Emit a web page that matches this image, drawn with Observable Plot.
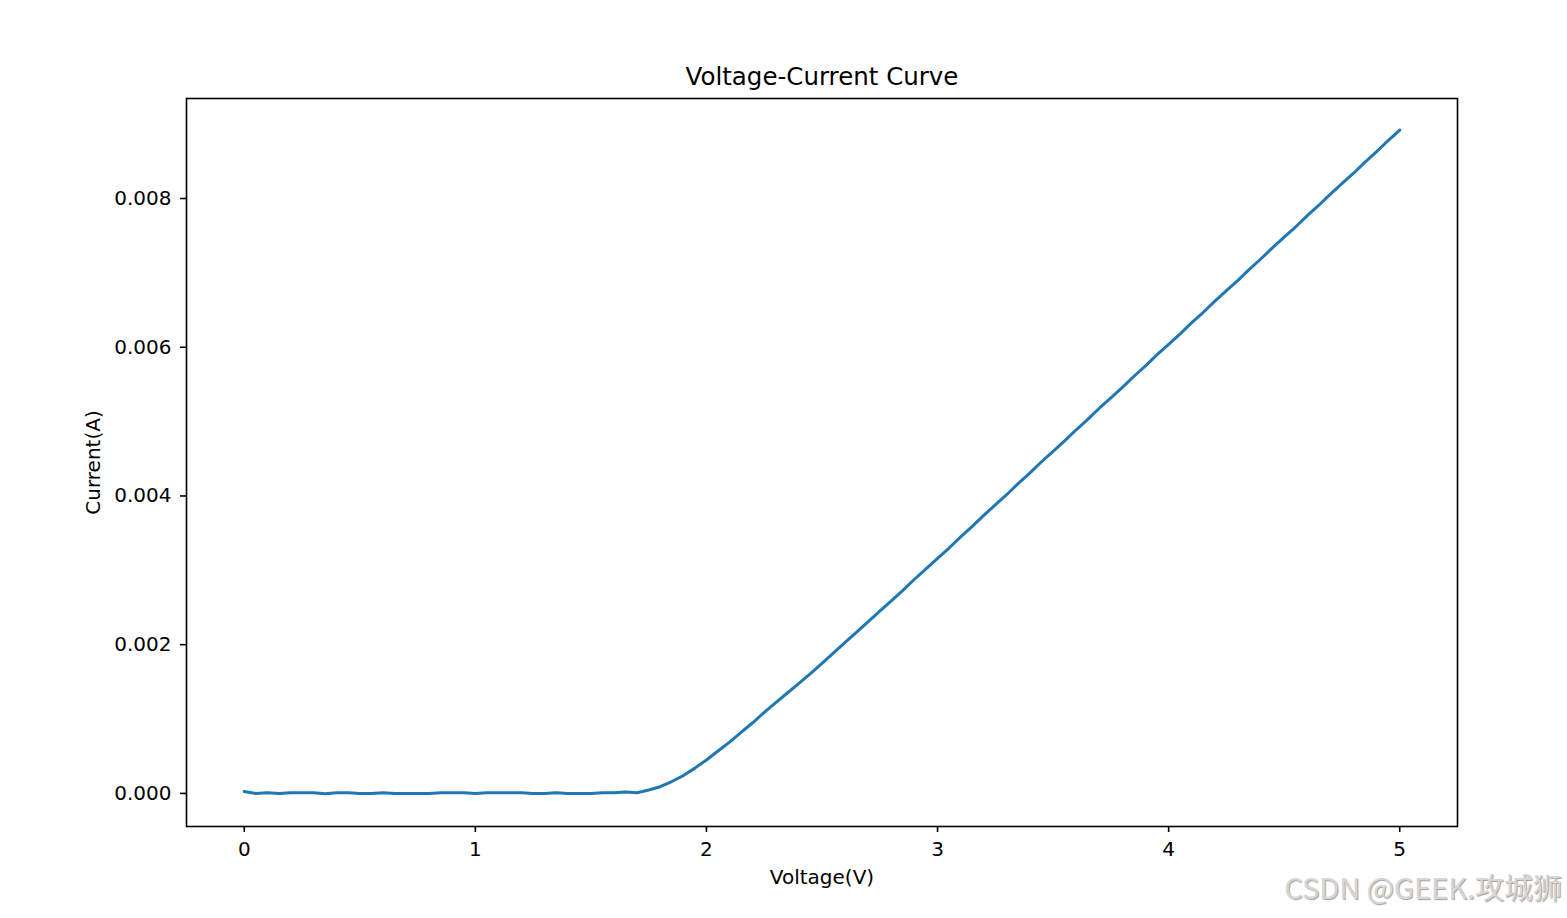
<!DOCTYPE html>
<html>
<head>
<meta charset="utf-8">
<script src="https://cdn.jsdelivr.net/npm/d3@7"></script>
<script src="https://cdn.jsdelivr.net/npm/@observablehq/plot@0.6"></script>
<style>
  html, body { margin: 0; padding: 0; background: #fff; }
  #wrap { position: relative; width: 1567px; height: 918px; overflow: hidden; }
  #wm { position: absolute; right: 5px; top: 872px; font-family: "Noto Sans CJK SC", "DejaVu Sans", sans-serif;
        font-size: 29px; color: #d6d6d6; text-shadow: 1px 1px 1px #a0a0a0; white-space: nowrap; line-height: 1; }
</style>
</head>
<body>
<div id="wrap"><div id="chart"></div><div id="wm">CSDN @GEEK.攻城狮</div></div>
<script>
const title = "Voltage-Current Curve";
const xLabel = "Voltage(V)";
const yLabel = "Current(A)";
const xTicks = [0, 1, 2, 3, 4, 5];
const yTicks = [0, 0.002, 0.004, 0.006, 0.008];

const voltage = [
  0.00, 0.05, 0.10, 0.15, 0.20, 0.25, 0.30, 0.35, 0.40, 0.45,
  0.50, 0.55, 0.60, 0.65, 0.70, 0.75, 0.80, 0.85, 0.90, 0.95,
  1.00, 1.05, 1.10, 1.15, 1.20, 1.25, 1.30, 1.35, 1.40, 1.45,
  1.50, 1.55, 1.60, 1.65, 1.70, 1.75, 1.80, 1.85, 1.90, 1.95,
  2.00, 2.05, 2.10, 2.15, 2.20, 2.25, 2.30, 2.35, 2.40, 2.45,
  2.50, 2.55, 2.60, 2.65, 2.70, 2.75, 2.80, 2.85, 2.90, 2.95,
  3.00, 3.05, 3.10, 3.15, 3.20, 3.25, 3.30, 3.35, 3.40, 3.45,
  3.50, 3.55, 3.60, 3.65, 3.70, 3.75, 3.80, 3.85, 3.90, 3.95,
  4.00, 4.05, 4.10, 4.15, 4.20, 4.25, 4.30, 4.35, 4.40, 4.45,
  4.50, 4.55, 4.60, 4.65, 4.70, 4.75, 4.80, 4.85, 4.90, 4.95,
  5.00
];

const current = [
  0.000025, 0.000000, 0.000010, 0.000000, 0.000010, 0.000010, 0.000010, -0.000005, 0.000010, 0.000010,
  0.000000, 0.000000, 0.000010, 0.000000, 0.000000, 0.000000, 0.000000, 0.000010, 0.000010, 0.000010,
  0.000000, 0.000010, 0.000010, 0.000010, 0.000010, 0.000000, 0.000000, 0.000010, 0.000000, 0.000000,
  0.000000, 0.000010, 0.000010, 0.000020, 0.000010, 0.000045, 0.000090, 0.000160, 0.000240, 0.000340,
  0.000450, 0.000570, 0.000690, 0.000820, 0.000950, 0.001090, 0.001220, 0.001350, 0.001480, 0.001610,
  0.001750, 0.001890, 0.002030, 0.002170, 0.002310, 0.002450, 0.002590, 0.002730, 0.002880, 0.003020,
  0.003160, 0.003300, 0.003450, 0.003590, 0.003740, 0.003880, 0.004020, 0.004170, 0.004310, 0.004460,
  0.004600, 0.004740, 0.004890, 0.005030, 0.005180, 0.005320, 0.005460, 0.005610, 0.005750, 0.005900,
  0.006040, 0.006180, 0.006330, 0.006470, 0.006620, 0.006760, 0.006900, 0.007050, 0.007190, 0.007340,
  0.007480, 0.007620, 0.007770, 0.007910, 0.008060, 0.008200, 0.008340, 0.008490, 0.008630, 0.008780,
  0.008920
];

const data = voltage.map((v, i) => ({v, i: current[i]}));

const chart = Plot.plot({
  width: 1567,
  height: 918,
  marginTop: 98,
  marginRight: 110,
  marginBottom: 92,
  marginLeft: 186,
  style: { fontFamily: "DejaVu Sans, sans-serif", fontSize: "20px", color: "#000", background: "#fff" },
  x: { domain: [-0.25, 5.25] },
  y: { domain: [-0.000445, 0.009345] },
  marks: [
    Plot.line(data, { x: "v", y: "i", stroke: "#1f77b4", strokeWidth: 3, curve: "linear" }),
    Plot.frame({ stroke: "#000", strokeWidth: 1.6 }),
    Plot.axisX({ ticks: xTicks, tickSize: 6, tickPadding: 9, tickFormat: d => String(d), label: null, strokeWidth: 1.6, fontSize: 20 }),
    Plot.axisY({ ticks: yTicks, tickSize: 6, tickPadding: 9, tickFormat: d3.format(".3f"), label: null, strokeWidth: 1.6, fontSize: 20 }),
    Plot.text([title], { text: d => d, frameAnchor: "top", dy: -21, fontSize: 24.5, lineAnchor: "middle", fill: "#000" }),
    Plot.text([xLabel], { text: d => d, frameAnchor: "bottom", dy: 51, fontSize: 20, lineAnchor: "middle", fill: "#000" }),
    Plot.text([yLabel], { text: d => d, frameAnchor: "left", dx: -93, rotate: -90, fontSize: 20, textAnchor: "middle", lineAnchor: "middle", fill: "#000" })
  ]
});
document.getElementById("chart").appendChild(chart);
</script>
</body>
</html>
